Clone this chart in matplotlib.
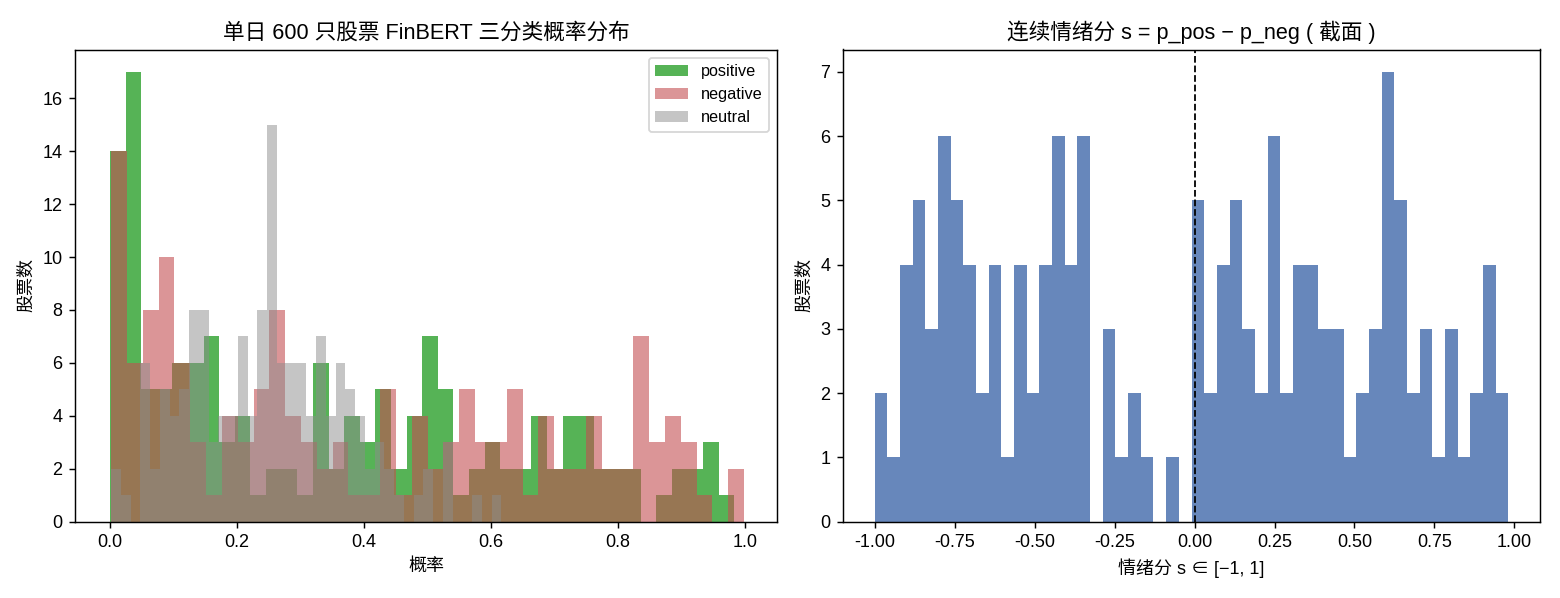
import numpy as np
import matplotlib.pyplot as plt

plt.rcParams["font.family"] = ["Liberation Sans", "Noto Sans CJK SC", "DejaVu Sans"]
plt.rcParams["axes.unicode_minus"] = False

# left panel: counts per bin (40 bins each, every series over its own range)
pos_range = (0.0, 0.983)
pos_counts = [14, 17, 5, 5, 6, 6, 7, 3, 4, 1, 2, 2, 1, 6, 2, 4, 3, 5, 2, 4,
              7, 5, 1, 2, 3, 2, 2, 4, 2, 4, 4, 2, 2, 2, 0, 1, 2, 2, 3, 1]
neg_range = (0.002, 0.998)
neg_counts = [14, 6, 8, 10, 6, 3, 1, 4, 3, 5, 8, 4, 3, 2, 3, 1, 1, 5, 1, 4,
              2, 3, 5, 3, 3, 5, 1, 4, 2, 2, 4, 2, 2, 7, 3, 4, 3, 1, 0, 2]
neu_range = (0.002, 0.616)
neu_counts = [2, 1, 0, 6, 2, 5, 4, 5, 8, 8, 3, 4, 4, 7, 4, 8, 15, 6, 6, 6,
              4, 7, 4, 6, 5, 4, 2, 3, 2, 1, 0, 1, 2, 0, 3, 0, 0, 1, 0, 1]

# right panel: 50 bins of s
s_range = (-1.0, 0.981)
s_counts = [2, 1, 4, 5, 3, 6, 5, 4, 2, 4, 1, 4, 2, 4, 6, 4, 6, 0, 3, 1,
            2, 1, 0, 1, 0, 5, 2, 4, 5, 3, 2, 6, 2, 4, 4, 3, 3, 1, 2, 3,
            7, 5, 2, 3, 1, 3, 1, 2, 4, 2]


def hist_from_counts(ax, counts, lo_hi, **kw):
    edges = np.linspace(lo_hi[0], lo_hi[1], len(counts) + 1)
    ax.hist(edges[:-1], bins=edges, weights=counts, **kw)


fig = plt.figure(figsize=(12, 4.6), dpi=130)
W, H = 1560, 598
ax1 = fig.add_axes([75 / W, 1 - 521.5 / H, 702 / W, 472 / H])
ax2 = fig.add_axes([843 / W, 1 - 521.5 / H, 697 / W, 472 / H])

hist_from_counts(ax1, pos_counts, pos_range, color="#2ca02c", alpha=0.8, label="positive")
hist_from_counts(ax1, neg_counts, neg_range, color="#c44e52", alpha=0.6, label="negative")
hist_from_counts(ax1, neu_counts, neu_range, color="#8c8c8c", alpha=0.5, label="neutral")
ax1.set_xlim(-0.055, 1.05)
ax1.set_title("单日 600 只股票 FinBERT 三分类概率分布", fontsize=12)
ax1.set_xlabel("概率")
ax1.set_ylabel("股票数")
ax1.legend(loc="upper right", fontsize=9)

hist_from_counts(ax2, s_counts, s_range, color="#4c72b0", alpha=0.85)
ax2.axvline(0, color="black", linestyle="--", linewidth=1.0)
ax2.set_title("连续情绪分 s = p_pos − p_neg ( 截面 )", fontsize=12)
ax2.set_xlabel("情绪分 s ∈ [−1, 1]")
ax2.set_ylabel("股票数")

fig.savefig("out.png", dpi=130)
